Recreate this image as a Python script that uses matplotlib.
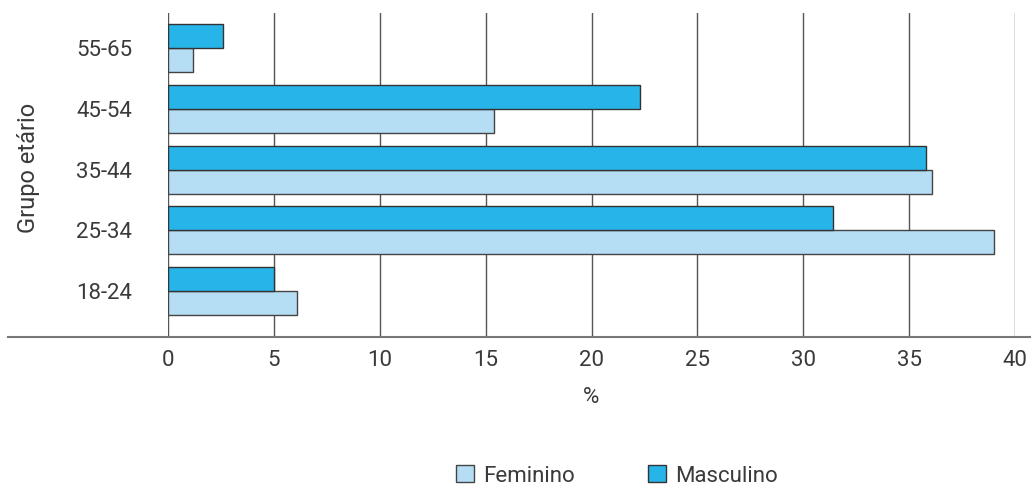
import numpy as np
import matplotlib
matplotlib.use('Agg')
from matplotlib import pyplot as plt
from matplotlib.lines import Line2D
from matplotlib.patches import Patch

grupos = ['18-24', '25-34', '35-44', '45-54', '55-65']
feminino = [6.1, 39.0, 36.1, 15.4, 1.2]
masculino = [5.0, 31.4, 35.8, 22.3, 2.6]
xticks = [0, 5, 10, 15, 20, 25, 30, 35, 40]

cor_fem = '#b5ddf4'
cor_masc = '#27b5e9'
cor_txt = '#3a3a3a'

plt.rcParams['font.family'] = ['Roboto', 'DejaVu Sans']

fig = plt.figure(figsize=(10.31, 4.87), dpi=100)
ax = fig.add_axes([0.163, 0.308, 0.8215, 0.665])

y = np.arange(len(grupos))
h = 0.395
ax.barh(y - h / 2, feminino, height=h, color=cor_fem, edgecolor='#444444', linewidth=1, zorder=3)
ax.barh(y + h / 2, masculino, height=h, color=cor_masc, edgecolor='#333333', linewidth=1, zorder=3)

ax.set_xlim(0, 40)
ax.set_ylim(-0.757, 4.576)
ax.set_xticks(xticks)
ax.set_yticks(y)
ax.set_yticklabels(grupos)
for v in xticks:
    ax.axvline(v, color='#555555', linewidth=1, zorder=1)

for s in ax.spines.values():
    s.set_visible(False)
ax.tick_params(length=0, labelsize=16, colors=cor_txt, pad=9)
ax.tick_params(axis='y', pad=26)

# linha do eixo x, estende-se até à margem esquerda
fig.add_artist(Line2D([8 / 1031, 1.0], [0.308, 0.308], color='#777777', linewidth=1.5))

ax.set_xlabel('%', fontsize=16, color=cor_txt, labelpad=12)
fig.text(28 / 1031, 1 - 168 / 487, 'Grupo etário', rotation=90, fontsize=17,
         color=cor_txt, ha='center', va='center')

handles = [Patch(facecolor=cor_fem, edgecolor='#444444'),
           Patch(facecolor=cor_masc, edgecolor='#333333')]
fig.legend(handles, ['Feminino', 'Masculino'], loc='center', ncol=2,
           bbox_to_anchor=(617 / 1031, 1 - 476 / 487), frameon=False,
           fontsize=16, handlelength=0.8, handleheight=0.8, handletextpad=0.4,
           columnspacing=3.3, labelcolor=cor_txt)

fig.savefig('out.png', dpi=100)
